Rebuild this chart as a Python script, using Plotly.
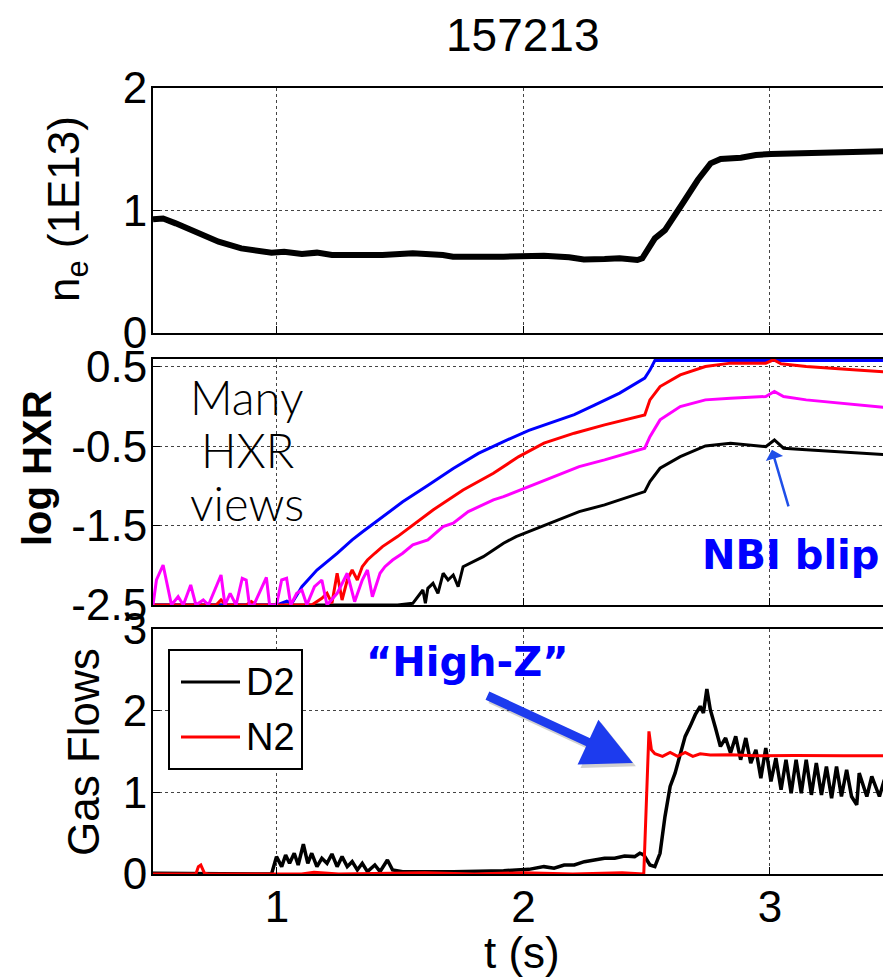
import plotly.graph_objects as go

# ---------------- data ----------------
NE_T = [0.497, 0.538, 0.589, 0.691, 0.763, 0.855, 0.978, 1.029, 1.101, 1.162, 1.223, 1.428,
        1.551, 1.673, 1.714, 1.919, 2.083, 2.185, 2.245, 2.329, 2.39, 2.462, 2.482, 2.533,
        2.574, 2.646, 2.707, 2.759, 2.8, 2.882, 2.943, 3.004, 3.147, 3.352, 3.491]
NE = [0.928, 0.935, 0.895, 0.814, 0.745, 0.691, 0.656, 0.664, 0.645, 0.656, 0.637, 0.637,
      0.651, 0.637, 0.623, 0.623, 0.631, 0.618, 0.601, 0.604, 0.61, 0.596, 0.61, 0.773,
      0.84, 1.059, 1.249, 1.385, 1.42, 1.431, 1.453, 1.461, 1.467, 1.48, 1.486]

BLUE_T = [0.497, 1.0, 1.040, 1.060, 1.101, 1.162, 1.244, 1.305, 1.346, 1.428, 1.510, 1.613,
          1.715, 1.817, 1.919, 2.022, 2.124, 2.206, 2.288, 2.390, 2.492, 2.513, 2.533, 3.491]
BLUE = [-2.5, -2.5, -2.45, -2.48, -2.27, -2.06, -1.85, -1.68, -1.58, -1.39, -1.20, -0.99,
        -0.78, -0.59, -0.44, -0.30, -0.19, -0.10, 0.02, 0.17, 0.36, 0.46, 0.58, 0.58]

RED_T = [0.497, 0.753, 0.773, 0.793, 0.875, 0.896, 0.916, 1.141, 1.182, 1.203, 1.223, 1.244,
         1.264, 1.285, 1.305, 1.326, 1.346, 1.367, 1.397, 1.428, 1.489, 1.551, 1.633, 1.755,
         1.878, 1.981, 2.083, 2.206, 2.329, 2.492, 2.513, 2.554, 2.636, 2.738, 2.840, 2.983,
         3.014, 3.045, 3.147, 3.352, 3.491]
RED = [-2.5, -2.5, -2.437, -2.5, -2.5, -2.458, -2.5, -2.5, -2.416, -2.353, -2.479, -2.100,
       -2.437, -2.185, -2.059, -2.185, -2.017, -1.933, -1.848, -1.764, -1.638, -1.491, -1.302,
       -1.050, -0.839, -0.630, -0.461, -0.335, -0.230, -0.104, 0.085, 0.253, 0.399, 0.505,
       0.548, 0.548, 0.590, 0.539, 0.505, 0.462, 0.432]

MAG_T = [0.497, 0.511, 0.538, 0.558, 0.572, 0.599, 0.620, 0.650, 0.671, 0.701, 0.722, 0.773,
         0.789, 0.810, 0.834, 0.859, 0.875, 0.888, 0.906, 0.957, 0.970, 0.998, 1.019, 1.039,
         1.056, 1.080, 1.101, 1.121, 1.152, 1.182, 1.203, 1.244, 1.285, 1.315, 1.346, 1.367,
         1.387, 1.418, 1.438, 1.469, 1.510, 1.551, 1.612, 1.674, 1.715, 1.776, 1.817, 1.878,
         1.919, 2.022, 2.124, 2.226, 2.329, 2.492, 2.513, 2.554, 2.636, 2.738, 2.840, 2.983,
         3.018, 3.055, 3.147, 3.352, 3.491]
MAG = [-2.5, -2.185, -1.996, -2.269, -2.5, -2.395, -2.5, -2.248, -2.5, -2.437, -2.5, -2.122,
       -2.5, -2.353, -2.5, -2.164, -2.185, -2.5, -2.5, -2.151, -2.5, -2.5, -2.185, -2.164,
       -2.5, -2.353, -2.311, -2.5, -2.269, -2.185, -2.5, -2.353, -2.100, -2.458, -2.185, -2.059,
       -2.395, -2.100, -2.017, -1.933, -1.848, -1.743, -1.680, -1.512, -1.470, -1.323, -1.260,
       -1.176, -1.134, -1.008, -0.882, -0.756, -0.671, -0.524, -0.378, -0.167, 0.001, 0.085,
       0.106, 0.127, 0.190, 0.127, 0.085, 0.022, -0.019]

BLK_T = [0.497, 1.489, 1.551, 1.571, 1.592, 1.602, 1.612, 1.633, 1.653, 1.674, 1.694, 1.715,
         1.735, 1.755, 1.796, 1.837, 1.878, 1.919, 1.970, 2.022, 2.124, 2.226, 2.329, 2.410,
         2.492, 2.513, 2.554, 2.636, 2.738, 2.840, 2.983, 3.018, 3.055, 3.147, 3.352, 3.491]
BLK = [-2.5, -2.5, -2.479, -2.395, -2.311, -2.479, -2.290, -2.227, -2.353, -2.100, -2.185,
       -2.122, -2.269, -2.017, -1.954, -1.891, -1.806, -1.722, -1.638, -1.575, -1.449, -1.323,
       -1.239, -1.155, -1.071, -0.945, -0.777, -0.630, -0.495, -0.461, -0.504, -0.420, -0.524,
       -0.545, -0.587, -0.608]

D2_T = [0.497, 0.978, 0.998, 1.019, 1.035, 1.051, 1.070, 1.086, 1.107, 1.125, 1.141, 1.162,
        1.182, 1.203, 1.223, 1.244, 1.264, 1.285, 1.305, 1.326, 1.346, 1.367, 1.397, 1.418,
        1.448, 1.469, 1.510, 1.715, 1.919, 2.022, 2.083, 2.124, 2.165, 2.206, 2.247, 2.288,
        2.329, 2.370, 2.410, 2.451, 2.472, 2.488, 2.513, 2.533, 2.554, 2.574, 2.595, 2.615,
        2.636, 2.656, 2.676, 2.697, 2.717, 2.730, 2.744, 2.758, 2.779, 2.799, 2.820, 2.840,
        2.861, 2.881, 2.902, 2.922, 2.943, 2.963, 2.983, 3.004, 3.024, 3.045, 3.065, 3.086,
        3.106, 3.127, 3.147, 3.168, 3.188, 3.209, 3.229, 3.250, 3.270, 3.290, 3.311, 3.331,
        3.352, 3.362, 3.393, 3.413, 3.444, 3.464, 3.491]
D2 = [0.008, 0.0, 0.213, 0.090, 0.233, 0.131, 0.254, 0.110, 0.364, 0.131, 0.254, 0.090,
      0.192, 0.131, 0.245, 0.090, 0.213, 0.090, 0.151, 0.049, 0.131, 0.029, 0.110, 0.029,
      0.172, 0.049, 0.029, 0.029, 0.041, 0.057, 0.090, 0.070, 0.110, 0.110, 0.151, 0.172,
      0.192, 0.192, 0.221, 0.213, 0.254, 0.233, 0.110, 0.090, 0.254, 0.703, 1.072, 1.235,
      1.481, 1.685, 1.808, 1.951, 2.053, 1.972, 2.266, 2.012, 1.787, 1.562, 1.665, 1.481,
      1.685, 1.399, 1.665, 1.358, 1.521, 1.174, 1.542, 1.133, 1.419, 1.031, 1.399, 0.990,
      1.399, 0.990, 1.399, 0.969, 1.358, 0.969, 1.317, 0.928, 1.317, 0.949, 1.276, 0.949,
      0.847, 1.235, 0.949, 1.194, 0.949, 1.153, 0.908]

N2_T = [0.497, 0.671, 0.681, 0.691, 0.706, 0.722, 1.100, 1.150, 1.250, 1.600, 1.800, 2.000,
        2.200, 2.400, 2.488, 2.498, 2.509, 2.519, 2.533, 2.564, 2.595, 2.625, 2.656, 2.687,
        2.717, 2.758, 2.840, 2.943, 3.100, 3.300, 3.491]
N2 = [0.0, 0.0, 0.090, 0.110, 0.008, 0.0, 0.0, 0.02, 0.0, 0.015, 0.0, 0.015,
      0.0, 0.015, 0.0, 0.908, 1.746, 1.521, 1.472, 1.440, 1.489, 1.440, 1.489, 1.440,
      1.472, 1.456, 1.460, 1.448, 1.452, 1.448, 1.448]

X_TICKS = [1, 2, 3]
NE_TICKS = [0, 1, 2]
HXR_TICKS = [-2.5, -1.5, -0.5, 0.5]
HXR_TICKTEXT = ["-2.5", "-1.5", "-0.5", "0.5"]
GAS_TICKS = [0, 1, 2, 3]
LEGEND_NAMES = ["D2", "N2"]
LEGEND_COLORS = ["black", "#ff0000"]
NOTE_LINES = ["Many", "HXR", "views"]

# ---------------- geometry (page body has an 8px margin) ----------------
PAGE_OFF = 8
FIG_W, FIG_H = 891 - PAGE_OFF, 977 - PAGE_OFF
ML, MT, MB = 153 - PAGE_OFF, 88 - PAGE_OFF, 103
PW = FIG_W - ML            # plot width in px
PH = FIG_H - MT - MB       # plot height in px


def px(xp):
    """page x pixel -> paper x"""
    return (xp - 153) / PW


def py(yp):
    """page y pixel -> paper y"""
    return (88 + PH - yp) / PH


FONT = "Liberation Sans, Arial, Helvetica, sans-serif"
fig = go.Figure()

fig.add_trace(go.Scatter(x=NE_T, y=NE, mode="lines", line=dict(color="black", width=6),
                         xaxis="x", yaxis="y", showlegend=False))

for tt, yy, col in [(BLK_T, BLK, "black"), (BLUE_T, BLUE, "#0000ff"),
                    (RED_T, RED, "#ff0000"), (MAG_T, MAG, "#ff00ff")]:
    fig.add_trace(go.Scatter(x=tt, y=yy, mode="lines", line=dict(color=col, width=3),
                             xaxis="x2", yaxis="y2", showlegend=False))

fig.add_trace(go.Scatter(x=D2_T, y=D2, mode="lines", name=LEGEND_NAMES[0], showlegend=False,
                         line=dict(color=LEGEND_COLORS[0], width=3.5), xaxis="x3", yaxis="y3"))
fig.add_trace(go.Scatter(x=N2_T, y=N2, mode="lines", name=LEGEND_NAMES[1], showlegend=False,
                         line=dict(color=LEGEND_COLORS[1], width=3), xaxis="x3", yaxis="y3"))

axis_style = dict(showline=True, linecolor="black", linewidth=2, mirror=True,
                  ticks="inside", ticklen=7, tickcolor="black", showgrid=True,
                  gridcolor="#444444", griddash="dot", gridwidth=1, zeroline=False,
                  automargin=False,
                  tickfont=dict(family=FONT, size=44, color="black"))

XR = [0.497, 3.491]
fig.update_layout(
    template="none",
    width=FIG_W, height=FIG_H,
    margin=dict(l=ML, r=0, t=MT, b=MB, autoexpand=False),
    paper_bgcolor="white", plot_bgcolor="white",
    showlegend=False,
    xaxis=dict(domain=[0, 1], range=XR, anchor="y", tickvals=X_TICKS,
               showticklabels=False, **axis_style),
    yaxis=dict(domain=[py(333), 1.0], range=[0, 2], anchor="x", tickvals=NE_TICKS,
               ticklabelstandoff=-5, **axis_style),
    xaxis2=dict(domain=[0, 1], range=XR, anchor="y2", tickvals=X_TICKS,
                showticklabels=False, **axis_style),
    yaxis2=dict(domain=[py(605), py(359)], range=[-2.5, 0.6], anchor="x2",
                tickvals=HXR_TICKS, ticktext=HXR_TICKTEXT, ticklabelstandoff=-5, **axis_style),
    xaxis3=dict(domain=[0, 1], range=XR, anchor="y3", tickvals=X_TICKS,
                ticklabelstandoff=-7, **axis_style),
    yaxis3=dict(domain=[0, py(629)], range=[0, 3], anchor="x3", tickvals=GAS_TICKS,
                ticklabelstandoff=-5, **axis_style),
)

BLUE_TXT = "#0000ff"


def label(text, xp, yp, size, family=FONT, color="black", angle=0, weight=None):
    f = dict(family=family, size=size, color=color)
    if weight is not None:
        f["weight"] = weight
    return dict(text=text, x=px(xp), y=py(yp), xref="paper", yref="paper",
                xanchor="center", yanchor="middle", showarrow=False,
                textangle=angle, font=f)


ann = [
    label("157213", 523, 35, 46),
    label("n<sub>e</sub> (1E13)", 67, 209, 44, angle=-90),
    label("<b>log HXR</b>", 37, 468, 40, angle=-90),
    label("Gas Flows", 83, 752, 44, angle=-90),
    label("t (s)", 522, 952, 44),
    label("<b>NBI blip</b>", 790, 555, 40, family="DejaVu Sans, sans-serif", color=BLUE_TXT),
    label("<b>\u201cHigh-Z\u201d</b>", 467, 662, 40, family="DejaVu Sans, sans-serif",
          color=BLUE_TXT),
    # legend text
    dict(text=LEGEND_NAMES[0], x=px(244), y=py(682), xref="paper", yref="paper",
         xanchor="left", yanchor="middle", showarrow=False,
         font=dict(family=FONT, size=38, color="black")),
    dict(text=LEGEND_NAMES[1], x=px(244), y=py(737), xref="paper", yref="paper",
         xanchor="left", yanchor="middle", showarrow=False,
         font=dict(family=FONT, size=38, color="black")),
    # NBI blip arrow
    dict(text="", x=3.008, y=-0.545, xref="x2", yref="y2", ax=17, ay=58,
         showarrow=True, arrowhead=1, arrowwidth=2.5, arrowsize=1.2, arrowcolor="#1f4fe8"),
    # High-Z arrow shadow + arrow
    dict(text="", x=2.456, y=1.32, xref="x3", yref="y3", ax=-147, ay=-68,
         showarrow=True, arrowhead=2, arrowwidth=9, arrowsize=1.1,
         arrowcolor="rgba(0,0,0,0.18)"),
    dict(text="", x=2.444, y=1.36, xref="x3", yref="y3", ax=-147, ay=-68,
         showarrow=True, arrowhead=2, arrowwidth=9, arrowsize=1.1, arrowcolor="#1d3bee"),
]
for line_txt, yline in zip(NOTE_LINES, [397, 450, 503]):
    ann.append(label(line_txt, 247, yline, 47, family="Lato, DejaVu Sans, sans-serif",
                     weight=300))

shapes = [
    dict(type="rect", xref="paper", yref="paper", x0=px(169), x1=px(302), y0=py(769), y1=py(650),
         line=dict(color="black", width=2), fillcolor="white", layer="above"),
    dict(type="line", xref="paper", yref="paper", x0=px(181), x1=px(240), y0=py(682), y1=py(682),
         line=dict(color=LEGEND_COLORS[0], width=3), layer="above"),
    dict(type="line", xref="paper", yref="paper", x0=px(181), x1=px(240), y0=py(737), y1=py(737),
         line=dict(color=LEGEND_COLORS[1], width=3), layer="above"),
]
fig.update_layout(annotations=ann, shapes=shapes)

fig.write_html("out.html")
